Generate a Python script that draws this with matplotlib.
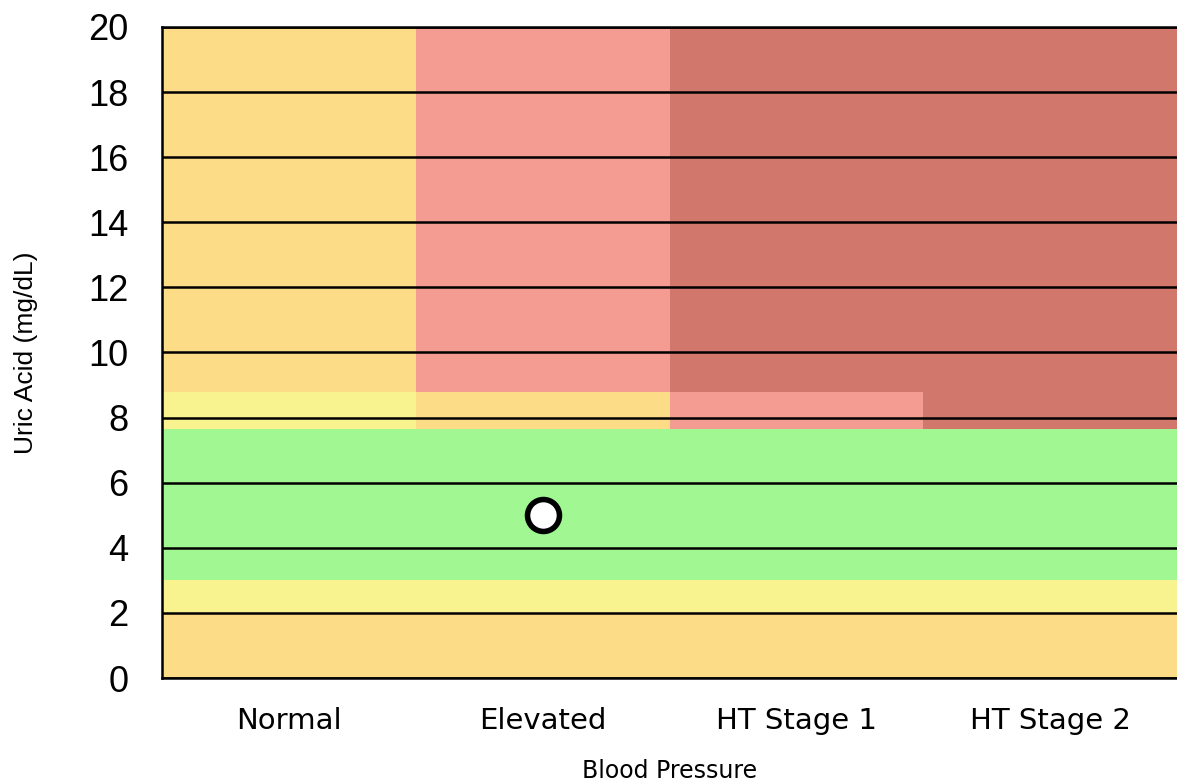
import matplotlib
matplotlib.use("Agg")
import matplotlib.pyplot as plt
import numpy as np

categories = ["Normal", "Elevated", "HT Stage 1", "HT Stage 2"]
band_edges = [0, 2, 3, 7.65, 8.8, 20]
# risk level per band (rows, bottom to top) and per category (columns)
risk_levels = [
    [2, 2, 2, 2],
    [1, 1, 1, 1],
    [0, 0, 0, 0],
    [1, 2, 3, 4],
    [2, 3, 4, 4],
]
risk_colors = ["#A1F892", "#F8F38F", "#FDDC88", "#F49C92", "#D1776C"]
point_category = "Elevated"
point_value = 5.0
y_ticks = [0, 2, 4, 6, 8, 10, 12, 14, 16, 18, 20]

fig = plt.figure(figsize=(11.77, 7.83), dpi=100)
ax = fig.add_axes([162 / 1177, 105 / 783, 1 - 162 / 1177, (678 - 27) / 783])

x = np.arange(len(categories))
for i in range(len(band_edges) - 1):
    bottom = band_edges[i]
    height = band_edges[i + 1] - band_edges[i]
    cols = [risk_colors[lvl] for lvl in risk_levels[i]]
    ax.bar(x, [height] * len(x), bottom=bottom, width=1.0, color=cols,
           linewidth=0, zorder=1)

for yv in y_ticks:
    ax.axhline(yv, color="black", linewidth=1.8, zorder=2)

ax.plot([categories.index(point_category)], [point_value], "o",
        markersize=23, markerfacecolor="white", markeredgecolor="black",
        markeredgewidth=4, zorder=5)

ax.set_xlim(-0.5, len(categories) - 0.5)
ax.set_ylim(0, 20)
ax.set_xticks(x)
ax.set_xticklabels(categories, fontsize=21, family="DejaVu Sans")
ax.set_yticks(y_ticks)
ax.set_yticklabels([str(t) for t in y_ticks], fontsize=26,
                   family="Liberation Sans")
ax.tick_params(axis="both", length=0)
ax.tick_params(axis="x", pad=21)
ax.tick_params(axis="y", pad=24)

ax.set_xlabel("Blood Pressure", fontsize=17, family="DejaVu Sans", labelpad=17)
ax.set_ylabel("Uric Acid (mg/dL)", fontsize=19, family="Liberation Sans",
              labelpad=36)

for s in ["left", "bottom", "top"]:
    ax.spines[s].set_linewidth(1.8)
    ax.spines[s].set_color("black")
ax.spines["right"].set_visible(False)

fig.savefig("out.png", dpi=100)
